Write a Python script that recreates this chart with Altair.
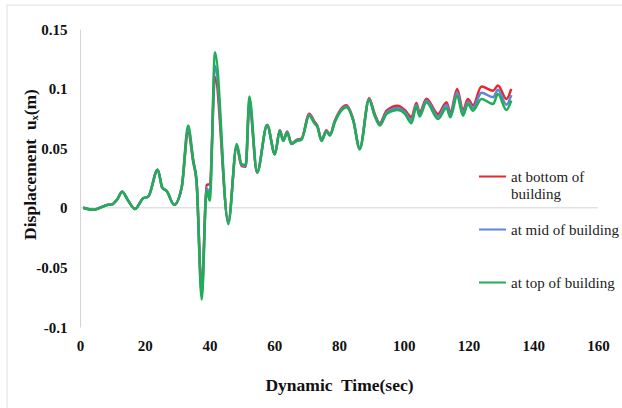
import altair as alt
import pandas as pd

# ---- data ----
time_sec = [1.0, 4.1, 6.5, 8.7, 9.8, 11.5, 13.0, 14.9, 17.0, 19.5,
            21.1, 24.0, 25.4, 26.8, 29.1, 31.4, 33.4, 35.0, 36.0, 37.6,
            39.1, 40.1, 41.7, 45.8, 48.4, 49.9, 51.2, 52.3, 54.7, 57.8,
            60.2, 61.7, 62.8, 64.0, 65.3, 66.9, 68.4, 70.8, 72.5, 73.3,
            74.6, 76.1, 77.2, 78.7, 82.3, 84.4, 86.4, 89.3, 91.0, 92.6,
            94.7, 98.2, 100.3, 102.4, 103.9, 104.9, 107.0, 110.6, 113.2, 114.4,
            116.5, 118.3, 119.8, 121.4, 124.0, 127.6, 129.1, 131.7, 133.2]

bottom = [0.0, -0.0017, 0.0005, 0.0025, 0.0028, 0.007, 0.0134, 0.006, -0.001, 0.008,
          0.0095, 0.032, 0.017, 0.014, 0.0025, 0.017, 0.063, 0.038, 0.022, -0.068,
          0.019, 0.02, 0.1095, -0.011, 0.051, 0.035, 0.0345, 0.086, 0.0297, 0.0695,
          0.045, 0.065, 0.057, 0.064, 0.054, 0.057, 0.058, 0.079, 0.072, 0.069,
          0.057, 0.065, 0.0615, 0.073, 0.086, 0.074, 0.05, 0.092, 0.079, 0.071,
          0.0815, 0.0857, 0.082, 0.076, 0.088, 0.08, 0.0915, 0.0787, 0.0885, 0.08,
          0.0997, 0.0815, 0.0913, 0.086, 0.1017, 0.0983, 0.1025, 0.0913, 0.0997]

mid = [0.0, -0.0017, 0.0005, 0.0025, 0.0028, 0.007, 0.0134, 0.006, -0.001, 0.008,
       0.0095, 0.032, 0.017, 0.014, 0.0025, 0.017, 0.066, 0.039, 0.0224, -0.073,
       0.0165, 0.012, 0.119, -0.0125, 0.052, 0.036, 0.035, 0.089, 0.0297, 0.0695,
       0.045, 0.0648, 0.0565, 0.0635, 0.054, 0.0565, 0.0575, 0.078, 0.071, 0.0685,
       0.0565, 0.0645, 0.061, 0.0722, 0.085, 0.0735, 0.0495, 0.091, 0.078, 0.07,
       0.08, 0.0838, 0.0805, 0.0735, 0.0865, 0.078, 0.09, 0.0766, 0.0862, 0.078,
       0.097, 0.0794, 0.089, 0.0838, 0.0965, 0.0927, 0.099, 0.0866, 0.0945]

top = [0.0, -0.0017, 0.0005, 0.0025, 0.0028, 0.007, 0.0134, 0.006, -0.001, 0.008,
       0.0095, 0.032, 0.017, 0.014, 0.0025, 0.017, 0.069, 0.0395, 0.0227, -0.077,
       0.0143, 0.006, 0.1305, -0.0137, 0.0535, 0.0367, 0.036, 0.0933, 0.0297, 0.0695,
       0.045, 0.0647, 0.056, 0.063, 0.0535, 0.056, 0.057, 0.0773, 0.0705, 0.068,
       0.056, 0.064, 0.0605, 0.0717, 0.0843, 0.073, 0.049, 0.0905, 0.0773, 0.069,
       0.0787, 0.082, 0.079, 0.071, 0.085, 0.0765, 0.0885, 0.0745, 0.0838, 0.0759,
       0.094, 0.0773, 0.087, 0.0815, 0.0913, 0.087, 0.0955, 0.082, 0.09]

series_names = ["at bottom of building", "at mid of building", "at top of building"]
series_colors = ["#e8262d", "#5b88d6", "#1fae56"]

x_ticks = [0, 20, 40, 60, 80, 100, 120, 140, 160]
y_ticks = [-0.1, -0.05, 0, 0.05, 0.1, 0.15]

rows = []
for idx, (name, vals) in enumerate(zip(series_names, [bottom, mid, top])):
    for t, v in zip(time_sec, vals):
        rows.append({"t": t, "v": v, "series": name, "k": idx})
df = pd.DataFrame(rows)

FONT = "Liberation Serif"

x_enc = alt.X("t:Q", scale=alt.Scale(domain=[0, 160], nice=False),
              axis=alt.Axis(values=x_ticks, grid=False, domain=False, ticks=False,
                            labelFlush=False,
                            labelFont=FONT, labelFontSize=15, labelFontWeight="bold",
                            labelColor="#111", labelPadding=11,
                            title="Dynamic\u00a0 Time(sec)", titleFont=FONT,
                            titleFontSize=17.5, titleFontWeight="bold", titleColor="#111",
                            titleY=58, titleBaseline="middle"))

y_axis = alt.Axis(values=y_ticks, grid=False, domain=True, domainColor="#d4d4d4",
                  domainWidth=1, ticks=False, labelFlush=False,
                  labelExpr="datum.value < 0 ? '-' + format(-datum.value, '~g') : format(datum.value, '~g')",
                  labelFont=FONT, labelFontSize=15, labelFontWeight="bold",
                  labelColor="#111", labelPadding=13,
                  title="Displacement\u00a0 u\u2093(m)", titleFont=FONT,
                  titleFontSize=17.5, titleFontWeight="bold", titleColor="#111",
                  titleX=-50, titleY=135, titleAngle=270,
                  titleAlign="center", titleBaseline="middle")
y_scale = alt.Scale(domain=[-0.1, 0.15], nice=False, zero=False)

zero_line = alt.Chart(pd.DataFrame({"v": [0]})).mark_rule(
    color="#d4d4d4", strokeWidth=1
).encode(y=alt.Y("v:Q", scale=y_scale, axis=y_axis))

lines = alt.Chart(df).mark_line(interpolate="monotone", strokeWidth=2.5).encode(
    x=x_enc,
    y=alt.Y("v:Q", scale=y_scale, axis=y_axis),
    color=alt.Color("series:N",
                    scale=alt.Scale(domain=series_names, range=series_colors),
                    legend=alt.Legend(title=None, orient="none", legendX=398, legendY=133,
                                      symbolType="stroke", symbolSize=729,
                                      symbolStrokeWidth=2, labelFont=FONT,
                                      labelFontSize=15, labelColor="#222",
                                      labelLimit=220, labelOffset=4, rowPadding=13,
                                      labelExpr="datum.label == 'at bottom of building' ? ['at bottom of', 'building'] : [datum.label, ' ']")),
    detail="k:O",
    order="t:Q",
)

border_v = alt.Chart(pd.DataFrame({"b": [0]})).mark_rule(color="#e0e0e0").encode(
    x=alt.value(-73), y=alt.value(-24), y2=alt.value(379))
border_h = alt.Chart(pd.DataFrame({"b": [0]})).mark_rule(color="#e0e0e0").encode(
    y=alt.value(-24), x=alt.value(-73), x2=alt.value(542))

chart = alt.layer(border_v, border_h, zero_line, lines).properties(
    width=518, height=298,
    padding={"left": 80, "top": 29, "right": 24, "bottom": 81},
    autosize=alt.AutoSizeParams(type="none"),
    background="white",
).configure_view(stroke=None)

chart.save("out.html", embed_options={"renderer": "svg", "actions": False})
